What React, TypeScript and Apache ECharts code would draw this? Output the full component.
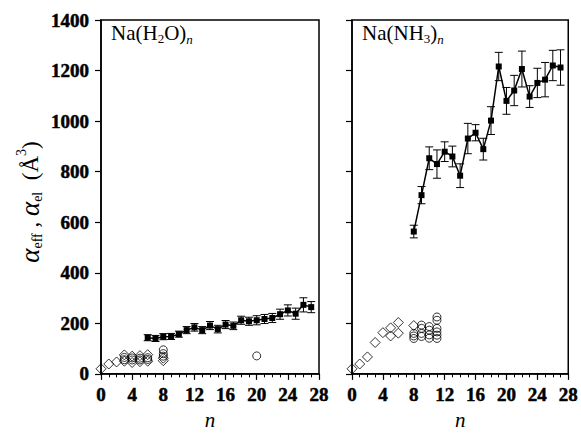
import React, { useEffect, useRef } from "react";
import * as echarts from "echarts";

// ---------- data ----------
const xTicks = [0, 4, 8, 12, 16, 20, 24, 28];
const yTicks = [0, 200, 400, 600, 800, 1000, 1200, 1400];

// Na(H2O)n  effective polarizability (filled squares + error bars)
const h2oN = [6, 7, 8, 9, 10, 11, 12, 13, 14, 15, 16, 17, 18, 19, 20, 21, 22, 23, 24, 25, 26, 27];
const h2oVal = [143, 140, 147, 148, 157, 173, 184, 173, 191, 177, 195, 190, 212, 208, 212, 217, 221, 236, 251, 238, 273, 264];
const h2oErr = [12, 12, 12, 12, 12, 14, 15, 14, 16, 15, 16, 15, 16, 16, 18, 18, 18, 20, 22, 22, 28, 22];
// Na(H2O)n  electronic polarizability (open symbols)
const h2oDiamondN = [0, 1, 2, 3, 3, 4, 4, 5, 5, 6, 6, 8, 8];
const h2oDiamondVal = [20, 39, 47, 75, 50, 70, 45, 72, 48, 76, 50, 62, 52];
const h2oCircleN = [3, 3, 4, 4, 5, 5, 6, 6, 8, 8, 8, 20];
const h2oCircleVal = [65, 56, 63, 55, 62, 55, 64, 57, 95, 80, 70, 71];

// Na(NH3)n
const nh3N = [8, 9, 10, 11, 12, 13, 14, 15, 16, 17, 18, 19, 20, 21, 22, 23, 24, 25, 26, 27];
const nh3Val = [563, 707, 853, 830, 879, 860, 784, 931, 954, 889, 1002, 1216, 1080, 1121, 1206, 1097, 1151, 1164, 1220, 1212];
const nh3Err = [25, 34, 45, 56, 39, 41, 47, 60, 32, 43, 55, 56, 53, 60, 71, 43, 58, 68, 60, 70];
const nh3DiamondN = [0, 1, 2, 3, 4, 5, 5, 6, 6, 8];
const nh3DiamondVal = [20, 39, 67, 124, 163, 182, 150, 203, 161, 191];
const nh3CircleN = [8, 8, 8, 9, 9, 9, 9, 10, 10, 10, 10, 11, 11, 11, 11, 11, 11];
const nh3CircleVal = [160, 150, 140, 193, 180, 160, 148, 187, 173, 154, 141, 225, 212, 180, 166, 153, 140];

const FONT = "Liberation Serif";

const zip = (xs: number[], ys: number[]) => xs.map((x, i) => [x, ys[i]]);
const errData = (xs: number[], ys: number[], es: number[]) =>
  xs.map((x, i) => [x, ys[i] - es[i], ys[i] + es[i]]);

const errRender = (params: any, api: any) => {
  const x = api.value(0);
  const p1 = api.coord([x, api.value(1)]);
  const p2 = api.coord([x, api.value(2)]);
  const w = 4;
  const st = { stroke: "#000", lineWidth: 1 };
  return {
    type: "group",
    children: [
      { type: "line", shape: { x1: p1[0], y1: p1[1], x2: p2[0], y2: p2[1] }, style: st },
      { type: "line", shape: { x1: p1[0] - w, y1: p1[1], x2: p1[0] + w, y2: p1[1] }, style: st },
      { type: "line", shape: { x1: p2[0] - w, y1: p2[1], x2: p2[0] + w, y2: p2[1] }, style: st },
    ],
  };
};

// bold Times look: serif with a thin outline, via rich text
const labelStyle = {
  fontFamily: FONT,
  fontSize: 19,
  color: "#000",
  formatter: (v: number) => "{b|" + String(v) + "}",
  rich: {
    b: {
      fontFamily: FONT,
      fontSize: 19,
      fontWeight: "bold",
      color: "#000",
      textBorderColor: "#000",
      textBorderWidth: 0.5,
    },
  },
};

const makeX = (idx: number) => ({
  type: "value",
  gridIndex: idx,
  min: xTicks[0],
  max: xTicks[xTicks.length - 1],
  interval: 4,
  name: "n",
  nameLocation: "middle",
  nameGap: 33,
  nameTextStyle: { fontFamily: FONT, fontStyle: "italic", fontSize: 21, color: "#000" },
  axisLine: { show: true, lineStyle: { color: "#000", width: 1.5 } },
  axisTick: { show: true, inside: false, length: 6, lineStyle: { color: "#000", width: 1.2 } },
  minorTick: { show: true, splitNumber: 4, length: 3.5, lineStyle: { color: "#000", width: 1 } },
  axisLabel: { ...labelStyle, margin: 11 },
  splitLine: { show: false },
});

const makeY = (idx: number, labels: boolean) => ({
  type: "value",
  gridIndex: idx,
  min: yTicks[0],
  max: yTicks[yTicks.length - 1],
  interval: 200,
  axisLine: { show: true, lineStyle: { color: "#000", width: 1.5 } },
  axisTick: { show: true, inside: false, length: 6, lineStyle: { color: "#000", width: 1.2 } },
  axisLabel: { ...labelStyle, show: labels, margin: 12 },
  splitLine: { show: false },
});

const openSym = (symbol: string, size: number, data: number[][], idx: number) => ({
  type: "scatter",
  xAxisIndex: idx,
  yAxisIndex: idx,
  symbol,
  symbolSize: size,
  itemStyle: { color: "rgba(255,255,255,0)", borderColor: "#000", borderWidth: 1 },
  data,
  z: 3,
});

export default function App() {
  const ref = useRef<HTMLDivElement>(null);
  useEffect(() => {
    if (!ref.current) return;
    const chart = echarts.init(ref.current, null, { renderer: "svg" });
    const titleRich = {
      m: { fontFamily: FONT, fontSize: 21, color: "#000" },
      s: { fontFamily: FONT, fontSize: 13, color: "#000", padding: [12, 0, 0, 0] },
      i: { fontFamily: FONT, fontSize: 13, fontStyle: "italic", color: "#000", padding: [14, 0, 0, 0] },
    };
    chart.setOption({
      animation: false,
      backgroundColor: "#fff",
      textStyle: { fontFamily: FONT },
      grid: [
        { left: 101, right: 262, top: 20, bottom: 53.5, show: true, borderColor: "#000", borderWidth: 1.5 },
        { left: 352, right: 11, top: 20, bottom: 53.5, show: true, borderColor: "#000", borderWidth: 1.5 },
      ],
      xAxis: [makeX(0), makeX(1)],
      yAxis: [makeY(0, true), makeY(1, false)],
      graphic: [
        {
          type: "text",
          left: 111,
          top: 22,
          style: { text: "{m|Na(H}{s|2}{m|O)}{i|n}", rich: titleRich },
        },
        {
          type: "text",
          left: 362,
          top: 22,
          style: { text: "{m|Na(NH}{s|3}{m|)}{i|n}", rich: titleRich },
        },
        {
          type: "text",
          x: 30,
          y: 202,
          rotation: Math.PI / 2,
          style: {
            text: "{a|α}{s|eff}{t| , }{a|α}{s|el}{t|  (Å}{p|3}{t|)}",
            align: "center",
            verticalAlign: "middle",
            rich: {
              a: { fontFamily: FONT, fontStyle: "italic", fontSize: 27, color: "#000" },
              s: { fontFamily: FONT, fontSize: 14, color: "#000", padding: [14, 0, 0, 0] },
              t: { fontFamily: FONT, fontSize: 23, color: "#000" },
              p: { fontFamily: FONT, fontSize: 14, color: "#000", padding: [0, 0, 18, 0] },
            },
          },
        },
      ],
      series: [
        // left panel
        {
          type: "custom",
          xAxisIndex: 0,
          yAxisIndex: 0,
          renderItem: errRender,
          encode: { x: 0, y: [1, 2] },
          data: errData(h2oN, h2oVal, h2oErr),
          z: 2,
        },
        {
          type: "line",
          xAxisIndex: 0,
          yAxisIndex: 0,
          symbol: "rect",
          symbolSize: 6,
          showSymbol: true,
          lineStyle: { color: "#000", width: 1.5 },
          itemStyle: { color: "#000" },
          data: zip(h2oN, h2oVal),
          z: 4,
        },
        openSym("diamond", 10, zip(h2oDiamondN, h2oDiamondVal), 0),
        openSym("circle", 8, zip(h2oCircleN, h2oCircleVal), 0),
        // right panel
        {
          type: "custom",
          xAxisIndex: 1,
          yAxisIndex: 1,
          renderItem: errRender,
          encode: { x: 0, y: [1, 2] },
          data: errData(nh3N, nh3Val, nh3Err),
          z: 2,
        },
        {
          type: "line",
          xAxisIndex: 1,
          yAxisIndex: 1,
          symbol: "rect",
          symbolSize: 6,
          showSymbol: true,
          lineStyle: { color: "#000", width: 1.5 },
          itemStyle: { color: "#000" },
          data: zip(nh3N, nh3Val),
          z: 4,
        },
        openSym("diamond", 10, zip(nh3DiamondN, nh3DiamondVal), 1),
        openSym("circle", 8, zip(nh3CircleN, nh3CircleVal), 1),
      ],
    });
    return () => chart.dispose();
  }, []);
  return <div ref={ref} style={{ width: 581, height: 435, position: "absolute", left: 0, top: 0 }} />;
}
